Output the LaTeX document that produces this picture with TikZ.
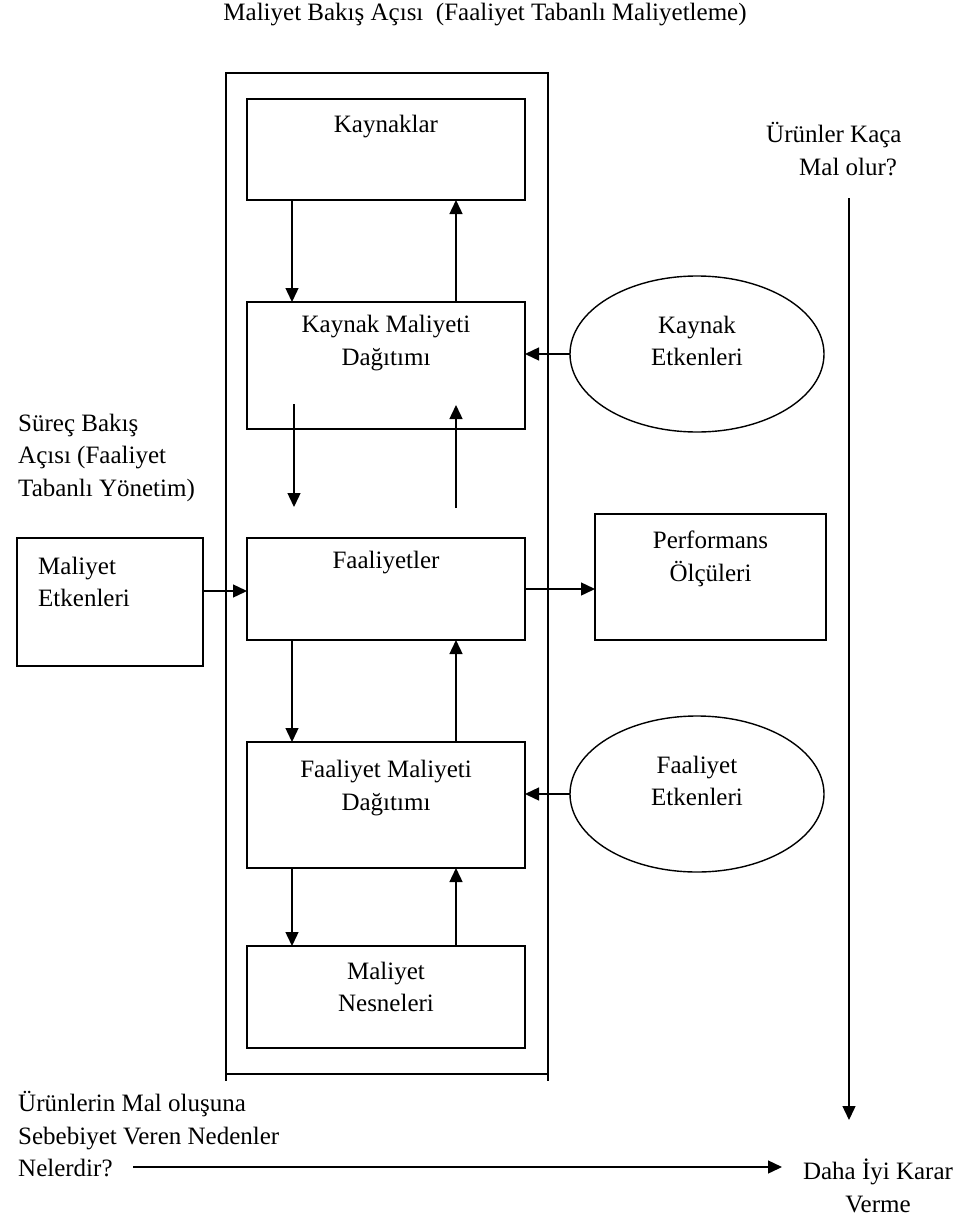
\documentclass[tikz,border=0pt]{standalone}
\usepackage{fontspec}
\setmainfont{Liberation Serif}
\usetikzlibrary{shapes.geometric,arrows.meta}
\begin{document}
\begin{tikzpicture}[x=1pt,y=-1pt,
  every node/.style={font=\fontsize{25}{32.5}\selectfont, inner sep=0pt},
  txt/.style={align=center},
  box/.style={draw, line width=1.4pt, rectangle, outer sep=0pt},
  ell/.style={draw, line width=1.4pt, ellipse, outer sep=0pt, minimum width=254pt, minimum height=156pt},
  ln/.style={line width=1.4pt},
  arr/.style={line width=1.4pt, -{Triangle[length=14pt,width=13pt]}}]
\useasboundingbox (0,0) rectangle (967,1220);
% title
\node[txt] (title) at (485,15) {Maliyet Bakış Açısı\ \ (Faaliyet Tabanlı Maliyetleme)};
% frame
\node[box, minimum width=322pt, minimum height=1001pt] (frame) at (387,573.5) {};
\draw[ln] (frame.south west) -- ++(0,7);
\draw[ln] (frame.south east) -- ++(0,7);
% boxes
\node[box, minimum width=278pt, minimum height=101pt] (kay) at (386,149.5) {};
\node[txt] (kayt) at (386,127) {Kaynaklar};
\node[box, minimum width=278pt, minimum height=127pt] (kmd) at (386,365.5) {};
\node[txt] (kmdt) at (386,343) {Kaynak Maliyeti\\Dağıtımı};
\node[box, minimum width=278pt, minimum height=102pt] (faa) at (386,589) {};
\node[txt] (faat) at (386,563) {Faaliyetler};
\node[box, minimum width=278pt, minimum height=126pt] (fmd) at (386,805) {};
\node[txt] (fmdt) at (386,788) {Faaliyet Maliyeti\\Dağıtımı};
\node[box, minimum width=278pt, minimum height=102pt] (mn) at (386,997) {};
\node[txt] (mnt) at (386,987) {Maliyet\\Nesneleri};
\node[box, minimum width=186pt, minimum height=128pt] (me) at (110,602) {};
\node[align=left, anchor=west] (met) at (38,582) {Maliyet\\Etkenleri};
\node[box, minimum width=231pt, minimum height=126pt] (perf) at (710.5,577) {};
\node[txt] (perft) at (710.5,559) {Performans\\Ölçüleri};
\node[ell] (ke) at (697,354) {};
\node[txt] (ket) at (697,341) {Kaynak\\Etkenleri};
\node[ell] (fe) at (697,794) {};
\node[txt] (fet) at (697,781) {Faaliyet\\Etkenleri};
% free texts
\node[align=left, anchor=west] (surec) at (18,457.5) {Süreç Bakış\\Açısı (Faaliyet\\Tabanlı Yönetim)};
\node[align=left, anchor=west] (kaca) at (766,149) {Ürünler Kaça\\\hspace*{33pt}Mal olur?};
\node[align=left, anchor=west] (neden) at (18,1134.5) {Ürünlerin Mal oluşuna\\Sebebiyet Veren Nedenler\\Nelerdir?};
\node[txt] (daha) at (878,1186) {Daha İyi Karar\\Verme};
% vertical arrows between boxes
\draw[arr] ([xshift=45pt]kay.south west) -- ([xshift=45pt]kmd.north west);
\draw[arr] ([xshift=209pt]kmd.north west) -- ([xshift=209pt]kay.south west);
\draw[arr] ([xshift=47pt,yshift=25pt]kmd.south west) -- ([xshift=47pt,yshift=31pt]faa.north west);
\draw[arr] ([xshift=209pt,yshift=30pt]faa.north west) -- ([xshift=209pt,yshift=24pt]kmd.south west);
\draw[arr] ([xshift=45pt]faa.south west) -- ([xshift=45pt]fmd.north west);
\draw[arr] ([xshift=209pt]fmd.north west) -- ([xshift=209pt]faa.south west);
\draw[arr] ([xshift=45pt]fmd.south west) -- ([xshift=45pt]mn.north west);
\draw[arr] ([xshift=209pt]mn.north west) -- ([xshift=209pt]fmd.south west);
% horizontal arrows
\draw[arr] (ke.west) -- (kmd.east |- ke.west);
\draw[arr] (fe.west) -- (fmd.east |- fe.west);
\coordinate (mea) at ([yshift=11pt]me.east);
\draw[arr] (mea) -- (faa.west |- mea);
\draw[arr] (faa.east) -- (perf.west |- faa.east);
% long arrows
\coordinate (vtop) at (849,198);
\coordinate (vbot) at (849,1120);
\draw[arr] (vtop) -- (vbot);
\coordinate (hs) at (133,1167);
\coordinate (he) at (782,1167);
\draw[arr] (hs) -- (he);
\end{tikzpicture}
\end{document}
